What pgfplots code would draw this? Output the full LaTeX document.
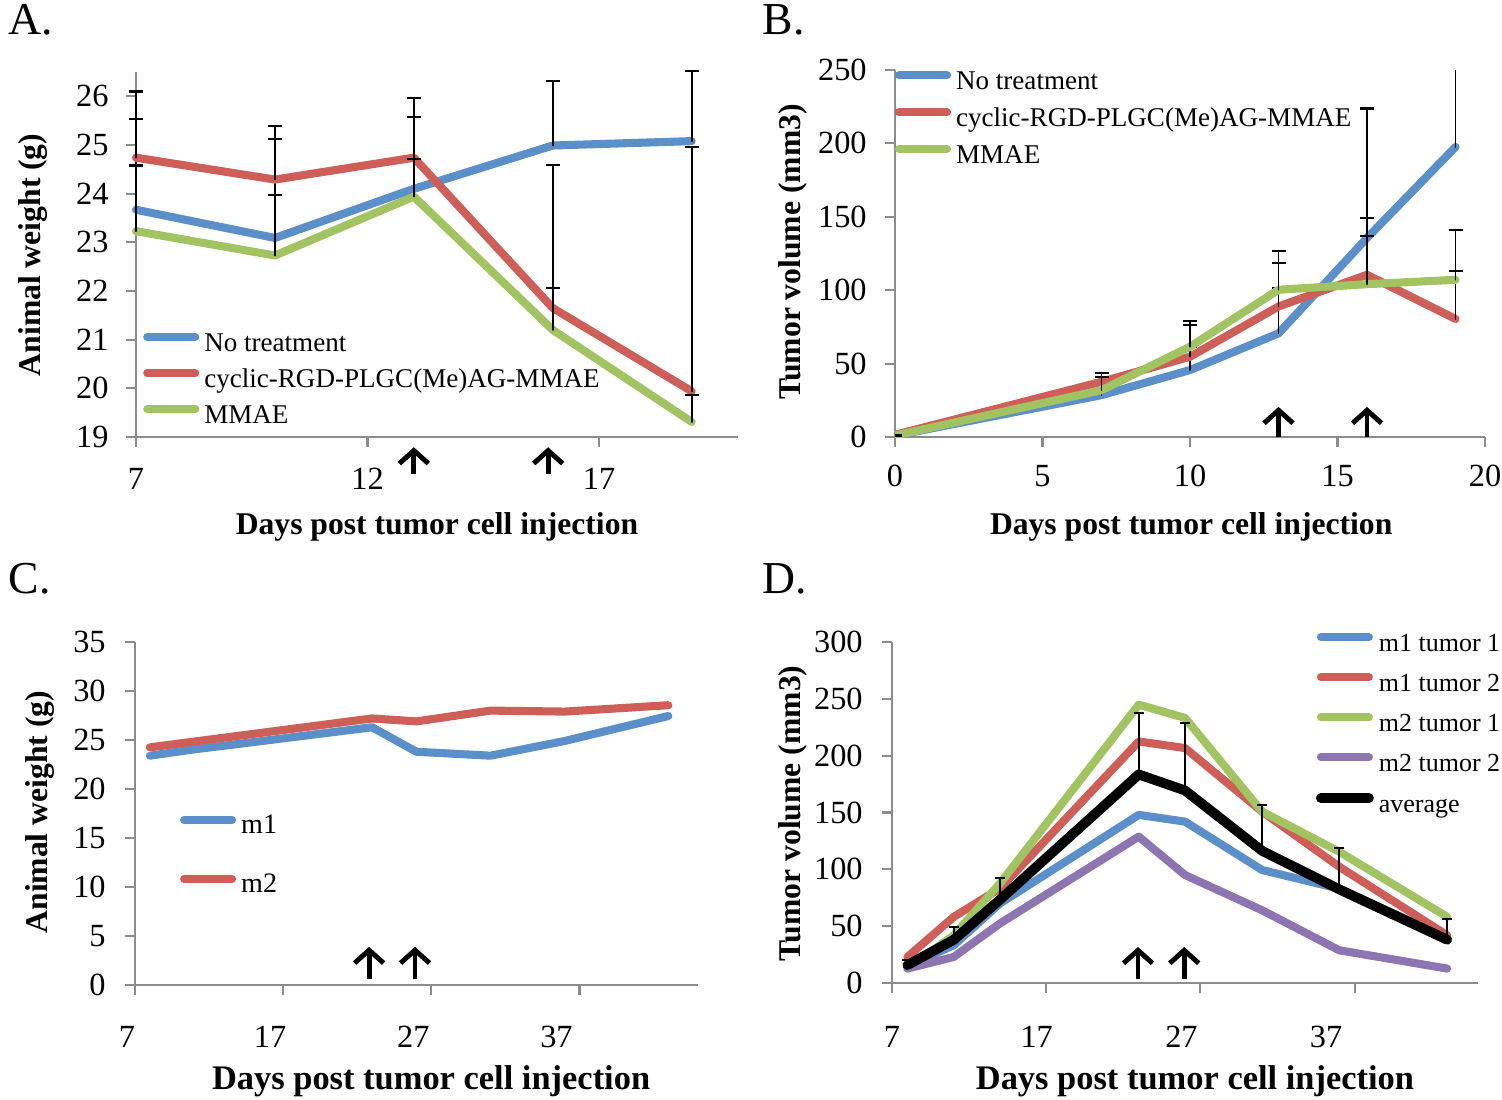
\documentclass[border=0pt]{standalone}
\usepackage{fontspec}
\setmainfont{Liberation Serif}
\usepackage{pgfplots}
\pgfplotsset{compat=1.18}
\usetikzlibrary{arrows.meta}

\definecolor{xlblue}{RGB}{91,143,201}
\definecolor{xlred}{RGB}{206,94,88}
\definecolor{xlgreen}{RGB}{162,195,98}
\definecolor{xlpurple}{RGB}{140,117,176}
\definecolor{axgray}{RGB}{140,140,140}

\pgfplotsset{
  panel/.style={
    scale only axis, anchor=south west,
    axis lines=left,
    axis line style={-, draw=axgray, line width=0.6pt},
    tick style={draw=axgray, line width=0.6pt},
    major tick length=1mm, tick align=outside,
    /pgf/number format/assume math mode=true,
    tick label style={font=\fontsize{9.2}{10}\selectfont},
    label style={font=\fontsize{9}{10}\selectfont\bfseries, anchor=center},
    legend style={draw=none, fill=none, inner sep=0pt, outer sep=0pt,
      anchor=north west, column sep=0.5mm,
      font=\fontsize{7.7}{8}\selectfont,
      nodes={inner sep=0pt, text height=1.8mm, text depth=0.6mm}},
    legend cell align=left,
    legend image code/.code={\draw[##1, line cap=round] (0mm,0.8mm) -- (4.8mm,0.8mm);},
    every axis plot/.append style={line width=2.3pt, line cap=round, line join=round},
    no markers,
  },
  ebar/.style={error bars/.cd, y dir=plus, y explicit,
    error bar style={black, line width=0.5pt},
    error mark options={black, line width=0.6pt, mark size=0.7mm, rotate=90}},
}
\tikzset{dose/.style={line width=1.4pt, -{Straight Barb[length=1.3mm,width=2.9mm]}}}

\begin{document}
\begin{tikzpicture}
\path[use as bounding box] (0,0) rectangle (15.02cm,10.99cm);

\node[anchor=base west, inner sep=0pt, font=\fontsize{13}{14}\selectfont] at (0.08cm,10.64cm) {A.};
\node[anchor=base west, inner sep=0pt, font=\fontsize{13}{14}\selectfont] at (7.62cm,10.64cm) {B.};
\node[anchor=base west, inner sep=0pt, font=\fontsize{13}{14}\selectfont] at (0.08cm,5.06cm) {C.};
\node[anchor=base west, inner sep=0pt, font=\fontsize{13}{14}\selectfont] at (7.62cm,5.06cm) {D.};

% A: animal weight
\begin{axis}[panel, at={(1.36cm,6.62cm)}, width=6.02cm, height=3.65cm,
  xmin=7, xmax=20, ymin=19, ymax=26.5,
  xtick={7,12,17}, ytick={19,20,...,26},
  xticklabel style={yshift=-0.9mm}, yticklabel style={xshift=-0.5mm},
  xlabel={Days post tumor cell injection}, ylabel={Animal weight (g)},
  xlabel style={at={(axis description cs:0.5,-0.247)}},
  ylabel style={at={(axis description cs:-0.171,0.499)}},
  legend style={at={(axis description cs:0.012,0.285)}, row sep=1.2mm},
  clip=false]
\addplot[xlblue, ebar] coordinates {
  (7,23.67) +- (0,1.87) (10,23.09) +- (0,2.03) (13,24.1) +- (0,1.48)
  (16,24.99) +- (0,1.33) (19,25.08) +- (0,1.44)};
\addplot[xlred, ebar] coordinates {
  (7,24.74) +- (0,1.36) (10,24.29) +- (0,1.10) (13,24.74) +- (0,1.23)
  (16,21.65) +- (0,2.94) (19,19.94) +- (0,5.02)};
\addplot[xlgreen, ebar] coordinates {
  (7,23.23) +- (0,1.35) (10,22.73) +- (0,1.25) (13,23.94) +- (0,0.78)
  (16,21.2) +- (0,0.86) (19,19.31) +- (0,0.56)};
\legend{No treatment, cyclic-RGD-PLGC(Me)AG-MMAE, MMAE}
\draw[dose] (axis cs:13,18.24) -- (axis cs:13,18.79);
\draw[dose] (axis cs:15.9,18.24) -- (axis cs:15.9,18.79);
\end{axis}

% B: tumor volume
\begin{axis}[panel, at={(8.95cm,6.62cm)}, width=5.90cm, height=3.67cm,
  xmin=0, xmax=20, ymin=0, ymax=250,
  xtick={0,5,...,20}, ytick={0,50,...,250},
  xticklabel style={yshift=-0.6mm}, yticklabel style={xshift=-0.6mm},
  xlabel={Days post tumor cell injection}, ylabel={Tumor volume (mm3)},
  xlabel style={at={(axis description cs:0.502,-0.245)}},
  ylabel style={at={(axis description cs:-0.173,0.504)}},
  legend style={at={(axis description cs:0,0.997)}, row sep=1.3mm}]
\addplot[xlblue, ebar] coordinates {
  (0,1) +- (0,0) (7,28.5) +- (0,12.5) (10,45.6) +- (0,16) (13,70.6) +- (0,30.8)
  (16,135.6) +- (0,88.2) (19,197.6) +- (0,70)};
\addplot[xlred, ebar] coordinates {
  (0,1.5) +- (0,0) (7,37.6) +- (0,5.7) (10,54.7) +- (0,21.6) (13,88.9) +- (0,29.6)
  (16,110.5) +- (0,38.8) (19,80.4) +- (0,32.9)};
\addplot[xlgreen, ebar] coordinates {
  (0,1) +- (0,0) (7,31.9) +- (0,9.1) (10,61.5) +- (0,17.6) (13,100.3) +- (0,26.2)
  (16,104.1) +- (0,32.6) (19,107.1) +- (0,34.2)};
\legend{No treatment, cyclic-RGD-PLGC(Me)AG-MMAE, MMAE}
\draw[dose] (axis cs:13,0) -- (axis cs:13,20.5);
\draw[dose] (axis cs:16,0) -- (axis cs:16,20.5);
\end{axis}

% C: animal weight, two mice
\begin{axis}[panel, at={(1.35cm,1.14cm)}, width=5.63cm, height=3.43cm,
  xmin=7, xmax=45, ymin=0, ymax=35,
  xtick={7,17,27,37}, ytick={0,5,...,35},
  xticklabel style={yshift=-1.9mm, xshift=-0.8mm-0.5mm*\ticknum}, yticklabel style={xshift=-0.7mm},
  xlabel={Days post tumor cell injection}, ylabel={Animal weight (g)},
  xlabel style={at={(axis description cs:0.526,-0.28)}, font=\fontsize{9.8}{11}\selectfont\bfseries},
  ylabel style={at={(axis description cs:-0.169,0.504)}},
  legend style={at={(axis description cs:0.08,0.493)}, row sep=3.5mm, font=\fontsize{8}{9}\selectfont},
  clip=false]
\addplot[xlblue] coordinates {
  (8,23.4) (11,24.05) (14,24.6) (23,26.3) (26,23.8) (31,23.4) (36,24.9) (43,27.45)};
\addplot[xlred] coordinates {
  (8,24.25) (11,24.84) (14,25.43) (23,27.2) (26,26.9) (31,28.0) (36,27.9) (43,28.55)};
\legend{m1, m2}
\draw[dose] (axis cs:22.8,0.6) -- (axis cs:22.8,3.9);
\draw[dose] (axis cs:25.9,0.6) -- (axis cs:25.9,3.9);
\end{axis}

% D: tumor volume, individual tumours
\begin{axis}[panel, at={(8.92cm,1.16cm)}, width=5.86cm, height=3.41cm,
  xmin=7, xmax=45, ymin=0, ymax=300,
  xtick={7,17,27,37}, ytick={0,50,...,300},
  xticklabel style={yshift=-2.1mm, xshift=-0.95mm*\ticknum}, yticklabel style={xshift=-0.7mm},
  xlabel={Days post tumor cell injection}, ylabel={Tumor volume (mm3)},
  xlabel style={at={(axis description cs:0.517,-0.288)}, font=\fontsize{9.8}{11}\selectfont\bfseries},
  ylabel style={at={(axis description cs:-0.169,0.497)}},
  legend style={at={(axis description cs:0.7235,1.026)}, row sep=1.6mm, font=\fontsize{7.4}{8}\selectfont},
  clip=false]
\addplot[xlblue] coordinates {
  (8,15) (11,33.2) (14,70) (23,147.9) (26,142) (31,99.4) (36,83) (43,39.5)};
\addplot[xlred] coordinates {
  (8,22.9) (11,58.2) (14,83.2) (23,212.5) (26,206.7) (31,150.8) (36,102.3) (43,42)};
\addplot[xlgreen] coordinates {
  (8,12.7) (11,42) (14,87.6) (23,244.9) (26,233.2) (31,150.8) (36,115.5) (43,58.2)};
\addplot[xlpurple] coordinates {
  (8,12.7) (11,22.9) (14,52.4) (23,128.8) (26,95) (31,64) (36,28.8) (43,12.7)};
\addplot[black, line width=2.8pt, ebar, error mark options={black, line width=0.6pt, mark size=0.5mm, rotate=90}] coordinates {
  (8,15.8) +- (0,4.8) (11,38) +- (0,11.4) (14,73.3) +- (0,18.7) (23,183.5) +- (0,54.1)
  (26,169.4) +- (0,59) (31,116.3) +- (0,40.4) (36,82.4) +- (0,36.1) (43,38.1) +- (0,18.6)};
\legend{m1 tumor 1, m1 tumor 2, m2 tumor 1, m2 tumor 2, average}
\draw[dose] (axis cs:22.95,3.5) -- (axis cs:22.95,31.7);
\draw[dose] (axis cs:25.95,3.5) -- (axis cs:25.95,31.7);
\end{axis}
\end{tikzpicture}
\end{document}
